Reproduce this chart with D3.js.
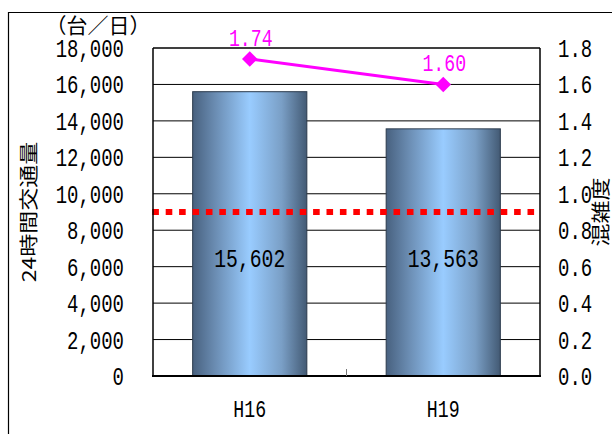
<!DOCTYPE html>
<html>
<head>
<meta charset="utf-8">
<script src="https://cdn.jsdelivr.net/npm/d3@7/dist/d3.min.js"></script>
<style>
  html, body { margin: 0; padding: 0; background: #fff; }
  svg { display: block; }
  text { fill: #000; }
</style>
</head>
<body>
<svg id="chart" width="612" height="434"></svg>
<script>
// Survey years and measured values
const categories = ["H16", "H19"];
const traffic = [15602, 13563];          // 24-hour traffic volume (vehicles/day)
const congestion = [1.74, 1.60];         // congestion ratio
const leftTicks = [0, 2000, 4000, 6000, 8000, 10000, 12000, 14000, 16000, 18000];
const rightTicks = [0, 0.2, 0.4, 0.6, 0.8, 1.0, 1.2, 1.4, 1.6, 1.8];
const referenceVolume = 9000;            // dotted reference level
const leftTitle = "24時間交通量";
const rightTitle = "混雑度";
const unitLabel = "（台／日）";

const svg = d3.select("#chart");
const W = 612, H = 434;
const plot = { left: 153, right: 540, top: 48, bottom: 376 };

const monoFont = "'Liberation Mono', 'DejaVu Sans Mono', monospace";
const cjkFont = "'Noto Sans CJK JP', 'Noto Sans', sans-serif";
const sx = 0.76; // horizontal squeeze for narrow gothic digits

const x = d3.scaleBand()
  .domain(categories)
  .range([plot.left, plot.right])
  .paddingInner(0.41)
  .paddingOuter(0.205);

const yL = d3.scaleLinear().domain([0, 18000]).range([plot.bottom, plot.top]);
const yR = d3.scaleLinear().domain([0, 1.8]).range([plot.bottom, plot.top]);

// Outer frame (left and top edges visible)
svg.append("path")
  .attr("d", `M8.5,${H} V12.5 H${W}`)
  .attr("fill", "none")
  .attr("stroke", "#000")
  .attr("stroke-width", 1.2);

// Bar gradient
const defs = svg.append("defs");
const grad = defs.append("linearGradient")
  .attr("id", "barGrad")
  .attr("x1", "0%").attr("x2", "100%").attr("y1", "0%").attr("y2", "0%");
grad.append("stop").attr("offset", "0%").attr("stop-color", "#48617f");
grad.append("stop").attr("offset", "20%").attr("stop-color", "#6b8db3");
grad.append("stop").attr("offset", "50%").attr("stop-color", "#99ccff");
grad.append("stop").attr("offset", "78%").attr("stop-color", "#7a9fc6");
grad.append("stop").attr("offset", "100%").attr("stop-color", "#435a74");

// Gridlines
svg.append("g")
  .selectAll("line")
  .data(leftTicks.filter(d => d > 0))
  .join("line")
  .attr("x1", plot.left).attr("x2", plot.right)
  .attr("y1", d => yL(d)).attr("y2", d => yL(d))
  .attr("stroke", "#000")
  .attr("stroke-width", 1);

// Bars
svg.append("g")
  .selectAll("rect")
  .data(categories)
  .join("rect")
  .attr("x", d => x(d))
  .attr("width", x.bandwidth())
  .attr("y", (d, i) => yL(traffic[i]))
  .attr("height", (d, i) => yL(0) - yL(traffic[i]))
  .attr("fill", "url(#barGrad)")
  .attr("stroke", "#2a3a4c")
  .attr("stroke-width", 1);

// Dotted reference line
svg.append("line")
  .attr("x1", plot.left - 0.7).attr("x2", plot.right)
  .attr("y1", yL(referenceVolume)).attr("y2", yL(referenceVolume))
  .attr("stroke", "#ff0000")
  .attr("stroke-width", 6)
  .attr("stroke-dasharray", "6.6,6.8");

// Bar value labels
const barLabelRise = 118;
svg.append("g")
  .selectAll("text")
  .data(categories)
  .join("text")
  .attr("transform", d => `translate(${x(d) + x.bandwidth() / 2},${yL(0) - barLabelRise}) scale(${sx},1)`)
  .attr("text-anchor", "middle")
  .attr("dy", "0.36em")
  .style("font-family", monoFont)
  .style("font-size", "26px")
  .text((d, i) => d3.format(",")(traffic[i]));

// Axes lines
const axes = svg.append("g").attr("stroke", "#000").attr("fill", "none");
axes.append("line").attr("x1", plot.left).attr("x2", plot.left).attr("y1", plot.top).attr("y2", plot.bottom).attr("stroke-width", 1.5);
axes.append("line").attr("x1", plot.right).attr("x2", plot.right).attr("y1", plot.top).attr("y2", plot.bottom).attr("stroke-width", 1.5);
axes.append("line").attr("x1", plot.left).attr("x2", plot.right).attr("y1", plot.top).attr("y2", plot.top).attr("stroke-width", 1.2);
axes.append("line").attr("x1", plot.left - 1).attr("x2", plot.right + 1).attr("y1", plot.bottom).attr("y2", plot.bottom).attr("stroke-width", 2);

// Category divider tick
const divider = (x(categories[0]) + x.bandwidth() + x(categories[1])) / 2;
svg.append("line")
  .attr("x1", divider).attr("x2", divider)
  .attr("y1", plot.bottom).attr("y2", plot.bottom - 7)
  .attr("stroke", "#777").attr("stroke-width", 1);

// Congestion line with diamond markers
const line = d3.line()
  .x((d, i) => x(categories[i]) + x.bandwidth() / 2)
  .y(d => yR(d));
svg.append("path")
  .datum(congestion)
  .attr("d", line)
  .attr("fill", "none")
  .attr("stroke", "#ff00ff")
  .attr("stroke-width", 3);

svg.append("g")
  .selectAll("path")
  .data(congestion)
  .join("path")
  .attr("d", d3.symbol().type(d3.symbolSquare).size(121))
  .attr("transform", (d, i) => `translate(${x(categories[i]) + x.bandwidth() / 2},${yR(d)}) rotate(45)`)
  .attr("fill", "#ff00ff");

svg.append("g")
  .selectAll("text")
  .data(congestion)
  .join("text")
  .attr("transform", (d, i) => `translate(${x(categories[i]) + x.bandwidth() / 2 + 1},${yR(d) - 13}) scale(${sx},1)`)
  .attr("text-anchor", "middle")
  .style("font-family", monoFont)
  .style("font-size", "24px")
  .style("fill", "#ff00ff")
  .text(d => d3.format(".2f")(d));

// Left tick labels
svg.append("g")
  .selectAll("text")
  .data(leftTicks)
  .join("text")
  .attr("transform", d => `translate(124,${yL(d)}) scale(${sx},1)`)
  .attr("text-anchor", "end")
  .attr("dy", "0.36em")
  .style("font-family", monoFont)
  .style("font-size", "25px")
  .text(d => d3.format(",")(d));

// Right tick labels
svg.append("g")
  .selectAll("text")
  .data(rightTicks)
  .join("text")
  .attr("transform", d => `translate(558,${yR(d)}) scale(${sx},1)`)
  .attr("text-anchor", "start")
  .attr("dy", "0.36em")
  .style("font-family", monoFont)
  .style("font-size", "25px")
  .text(d => d3.format(".1f")(d));

// Category labels
svg.append("g")
  .selectAll("text")
  .data(categories)
  .join("text")
  .attr("transform", d => `translate(${x(d) + x.bandwidth() / 2},417) scale(${sx},1)`)
  .attr("text-anchor", "middle")
  .style("font-family", monoFont)
  .style("font-size", "24px")
  .text(d => d);

// Unit label
svg.append("text")
  .attr("x", 98).attr("y", 33)
  .attr("text-anchor", "middle")
  .style("font-family", cjkFont)
  .style("font-size", "21px")
  .text(unitLabel);

// Axis titles (rotated)
const midY = (plot.top + plot.bottom) / 2;
svg.append("text")
  .attr("transform", `translate(29,${midY}) rotate(-90) scale(1,0.82)`)
  .attr("text-anchor", "middle")
  .attr("dy", "0.36em")
  .style("font-family", cjkFont)
  .style("font-size", "23px")
  .text(leftTitle);

svg.append("text")
  .attr("transform", `translate(601,${midY}) rotate(-90) scale(1,0.82)`)
  .attr("text-anchor", "middle")
  .attr("dy", "0.36em")
  .style("font-family", cjkFont)
  .style("font-size", "23px")
  .text(rightTitle);
</script>
</body>
</html>
